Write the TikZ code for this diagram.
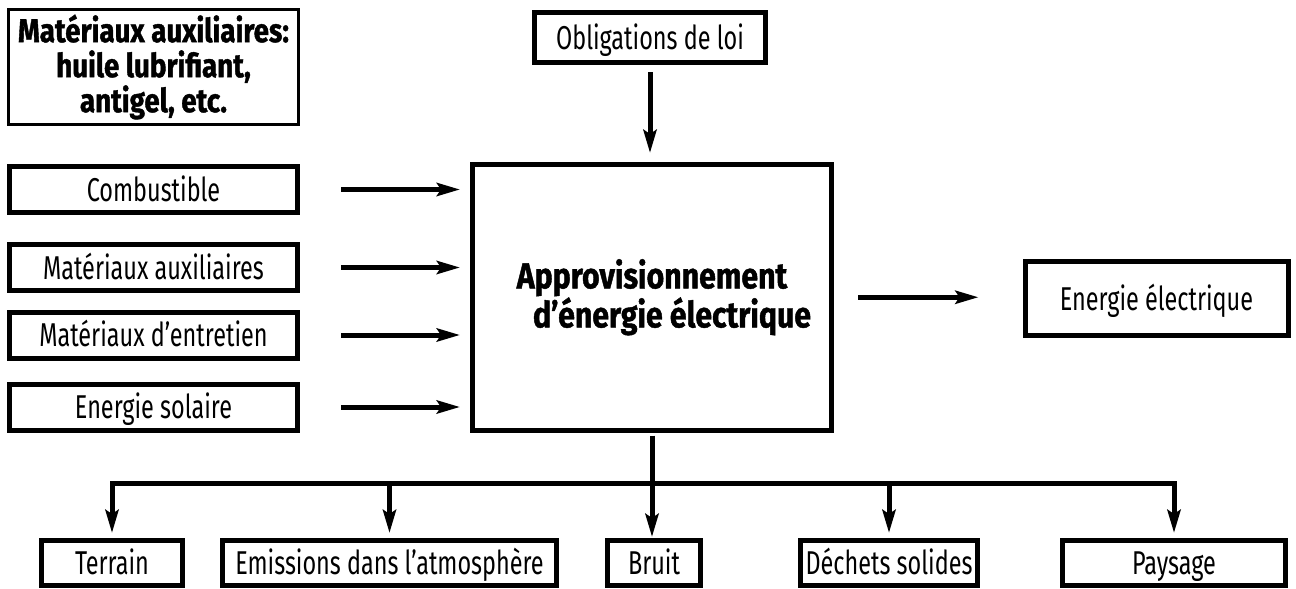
\documentclass[tikz,border=0pt]{standalone}
\usepackage{fontspec}
\setmainfont{Fira Sans}[FakeStretch=0.71]
\newfontfamily\heavyfont{Fira Sans}[FakeStretch=0.84,BoldFeatures={FakeBold=1.2}]
\usetikzlibrary{arrows.meta,calc,positioning}

\tikzset{
  box/.style={draw,line width=5pt,minimum height=46pt,inner sep=0pt,
    text height=25pt,text depth=2pt,font=\fontsize{33}{36}\selectfont},
  heavy/.style={font=\heavyfont\bfseries\fontsize{#1}{35}\selectfont,align=center,
    text height=,text depth=},
  arr/.style={line width=5pt,-{Stealth[length=23pt,width=13pt,inset=4pt]}},
}

\begin{document}
\begin{tikzpicture}[x=1pt,y=-1pt]
  \useasboundingbox (0,0) rectangle (1296,589);
  % inputs
  \node[box,line width=3pt,minimum width=290pt,minimum height=115pt,heavy=33]
    (aux) at (153.5,67) {Matériaux auxiliaires:\\huile lubrifiant,\\antigel, etc.};
  \node[box,minimum width=288pt] (comb) at (153.5,189.5) {Combustible};
  \node[box,minimum width=288pt] (mataux) at (153.5,267.5) {Matériaux auxiliaires};
  \node[box,minimum width=288pt] (matent) at (153.5,335) {Matériaux d’entretien};
  \node[box,minimum width=288pt] (solaire) at (153.5,407) {Energie solaire};
  \node[box,minimum width=231pt,minimum height=50pt] (loi) at (650,37.5) {Obligations de loi};
  % process
  \node[box,minimum width=359pt,minimum height=265.5pt,heavy=36]
    (main) at (652,297.25) {Approvisionnement\\ \hspace*{40pt}d’énergie électrique};
  \node[box,minimum width=263pt,minimum height=74pt] (elec) at (1156.5,298.5) {Energie électrique};
  % outputs
  \node[box,minimum width=141pt,minimum height=45pt] (terrain) at (112,563) {Terrain};
  \node[box,minimum width=334pt,minimum height=45pt] (emis) at (389.5,563) {Emissions dans l’atmosphère};
  \node[box,minimum width=93pt,minimum height=45pt] (bruit) at (654,563) {Bruit};
  \node[box,minimum width=177pt,minimum height=45pt] (dechets) at (889,563) {Déchets solides};
  \node[box,minimum width=223pt,minimum height=45pt] (paysage) at (1174,563) {Paysage};

  \foreach \n in {comb,mataux,matent,solaire}
    \draw[arr,shorten <=41pt,shorten >=10pt] (\n.east) -- (\n.east -| main.west);
  \draw[arr,shorten <=7pt,shorten >=9pt] (loi.south) -- (loi.south |- main.north);
  \draw[arr,shorten <=24pt,shorten >=44pt] (main.east) -- (main.east -| elec.west);
  \draw[arr,shorten <=3pt,shorten >=1pt] (main.south) -- (main.south |- bruit.north);
  \coordinate (bus) at (652,483);
  \draw[line width=5pt,line cap=rect] (bus -| terrain.north) -- (bus -| paysage.north);
  \foreach \n in {terrain,emis,dechets,paysage}
    \draw[arr,shorten >=5pt] (bus -| \n.north) -- (\n.north);
\end{tikzpicture}
\end{document}
